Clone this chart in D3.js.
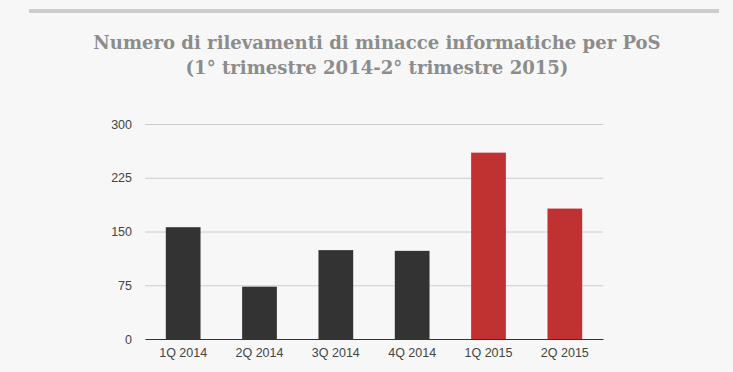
<!DOCTYPE html>
<html>
<head>
<meta charset="utf-8">
<script src="https://cdn.jsdelivr.net/npm/d3@7"></script>
<style>
  body { margin: 0; background: #f7f7f7; }
  #chart svg { display: block; }
</style>
</head>
<body>
<div id="chart"></div>
<script>
// Data
var categories = ["1Q 2014", "2Q 2014", "3Q 2014", "4Q 2014", "1Q 2015", "2Q 2015"];
var values = [156, 73, 124, 123, 260, 182];
var barColors = ["#333333", "#333333", "#333333", "#333333", "#c03131", "#c03131"];
var yTicks = [0, 75, 150, 225, 300];
var titleLines = ["Numero di rilevamenti di minacce informatiche per PoS",
                  "(1° trimestre 2014-2° trimestre 2015)"];

var W = 733, H = 372;
var margin = { top: 124, right: 130, bottom: 33, left: 145 },
    width = W - margin.left - margin.right,
    height = H - margin.top - margin.bottom;

var root = d3.select("#chart")
    .append("svg")
    .attr("width", W)
    .attr("height", H);

root.append("rect")
    .attr("width", W).attr("height", H)
    .attr("fill", "#f7f7f7");

// top rule
root.append("rect")
    .attr("x", 29).attr("y", 9)
    .attr("width", 690).attr("height", 4)
    .attr("fill", "#cccccc");

// title
var title = root.append("text")
    .attr("text-anchor", "middle")
    .attr("fill", "#8c8c8c")
    .style("font-family", "'DejaVu Serif', serif")
    .style("font-weight", "bold")
    .style("font-size", "18px");

title.selectAll("tspan")
    .data(titleLines)
    .enter()
    .append("tspan")
    .attr("x", 377)
    .attr("y", function (d, i) { return 49 + i * 25; })
    .text(function (d) { return d; });

// fit the first line to the width seen in the reference
var firstLen = title.select("tspan").node().getComputedTextLength();
title.style("font-size", (18 * 568 / firstLen) + "px");

var svg = root.append("g")
    .attr("transform", "translate(" + margin.left + "," + margin.top + ")");

var x = d3.scaleBand()
    .domain(categories)
    .range([0, width])
    .paddingInner(0.545)
    .paddingOuter(0.2725);

var y = d3.scaleLinear()
    .domain([0, 300])
    .range([height, 0]);

// gridlines + y labels
var yAxis = svg.append("g")
    .call(d3.axisLeft(y).tickValues(yTicks).tickSize(-width).tickPadding(13));
yAxis.select(".domain").remove();
yAxis.selectAll(".tick line")
    .attr("stroke", "#cccccc")
    .attr("stroke-width", 1);
yAxis.selectAll(".tick text")
    .attr("fill", "#444444")
    .style("font-family", "'Liberation Sans', Arial, sans-serif")
    .style("font-size", "12.5px");

// bars
svg.selectAll("rect.bar")
    .data(values)
    .enter()
    .append("rect")
    .attr("class", "bar")
    .attr("x", function (d, i) { return x(categories[i]); })
    .attr("y", function (d) { return y(d); })
    .attr("width", x.bandwidth())
    .attr("height", function (d) { return height - y(d); })
    .attr("fill", function (d, i) { return barColors[i]; });

// x axis
var xAxis = svg.append("g")
    .attr("transform", "translate(0," + height + ")")
    .call(d3.axisBottom(x).tickSize(0).tickPadding(9));
xAxis.select(".domain")
    .attr("stroke", "#333333")
    .attr("stroke-width", 1.2);
xAxis.selectAll(".tick text")
    .attr("fill", "#444444")
    .style("font-family", "'Liberation Sans', Arial, sans-serif")
    .style("font-size", "12.5px");
</script>
</body>
</html>
